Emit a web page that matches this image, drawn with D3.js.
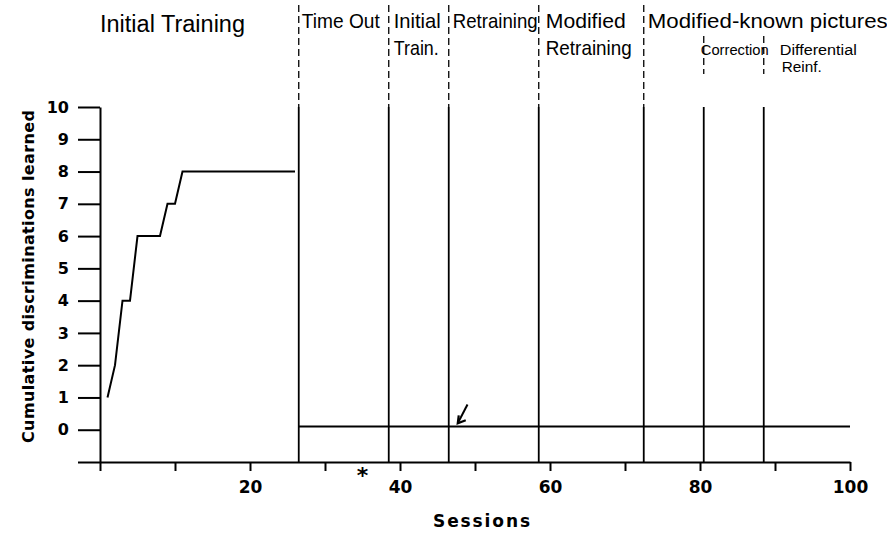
<!DOCTYPE html>
<html>
<head>
<meta charset="utf-8">
<script src="https://cdn.jsdelivr.net/npm/d3@7"></script>
<style>
  html, body { margin: 0; padding: 0; background: #fff; }
  svg { display: block; }
  .tick text { font-family: "DejaVu Sans", sans-serif; font-weight: bold; }
</style>
</head>
<body>
<div id="chart"></div>
<script>
  // initial training: sessions and cumulative discriminations learned
  var trainSessions = [1, 2, 3, 4, 5, 6, 7, 8, 9, 10, 11, 12, 13, 14, 15, 16, 17, 18, 19, 20, 21, 22, 23, 24, 25, 26];
  var trainLearned = [1, 2, 4, 4, 6, 6, 6, 6, 7, 7, 8, 8, 8, 8, 8, 8, 8, 8, 8, 8, 8, 8, 8, 8, 8, 8];

  // after the time out nothing new was learned
  var laterSessions = [26.5, 100];
  var laterLearned = [0.1, 0.1];

  // phase boundaries (session) and whether they are main or sub phases
  var boundarySessions = [26.5, 38.5, 46.5, 58.5, 72.5, 80.5, 88.5];
  var boundaryKinds = ['main', 'main', 'main', 'main', 'main', 'sub', 'sub'];

  // phase labels, one entry per phase, lines split with '|'
  var phaseNames = ['Initial Training', 'Time Out', 'Initial|Train.', 'Retraining', 'Modified|Retraining',
    'Modified-known pictures', 'Correction', 'Differential|Reinf.'];

  var xTickValues = [0, 10, 20, 30, 40, 50, 60, 70, 80, 90, 100];
  var xTickLabels = ['', '', '20', '', '40', '', '60', '', '80', '', '100'];
  var yTickValues = [-1, 0, 1, 2, 3, 4, 5, 6, 7, 8, 9, 10];
  var yTickLabels = ['', '0', '1', '2', '3', '4', '5', '6', '7', '8', '9', '10'];

  var xTitle = 'Sessions';
  var yTitle = 'Cumulative discriminations learned';

  // annotations: asterisk under the axis, arrow pointing at the retraining line
  var starSession = 35;
  var arrowFrom = [49, 0.78];
  var arrowTo = [47.7, 0.2];

  var width = 887;
  var height = 535;

  var svg = d3.select('#chart').append('svg')
      .attr('width', width)
      .attr('height', height);

  var x = d3.scaleLinear().domain([0, 100]).range([100, 850]);
  var y = d3.scaleLinear().domain([-1, 10]).range([462, 107]);

  // axes
  var xAxis = d3.axisBottom(x)
      .tickValues(xTickValues)
      .tickSize(9)
      .tickSizeOuter(0)
      .tickFormat(function (d, i) { return xTickLabels[i]; });

  var gx = svg.append('g')
      .attr('transform', 'translate(0,' + y(-1) + ')')
      .call(xAxis);
  gx.selectAll('.tick text')
      .attr('y', 31)
      .attr('dy', 0)
      .attr('font-size', 17);

  var yAxis = d3.axisLeft(y)
      .tickValues(yTickValues)
      .tickSize(22)
      .tickSizeOuter(0)
      .tickPadding(9)
      .tickFormat(function (d, i) { return yTickLabels[i]; });

  var gy = svg.append('g')
      .attr('transform', 'translate(' + x(0) + ',0)')
      .call(yAxis);
  gy.selectAll('.tick text')
      .attr('font-size', 16);

  svg.selectAll('.domain, .tick line')
      .attr('stroke', '#000')
      .attr('stroke-width', 2);

  // phase boundaries: solid inside the plot, dashed above it
  boundarySessions.forEach(function (s, i) {
    var bx = x(s);
    svg.append('line')
        .attr('x1', bx).attr('x2', bx)
        .attr('y1', y(10)).attr('y2', y(-1))
        .attr('stroke', '#000')
        .attr('stroke-width', 1.8);

    var top = boundaryKinds[i] === 'main' ? 5 : 36;
    var bottom = boundaryKinds[i] === 'main' ? y(10) : 74;
    svg.append('line')
        .attr('x1', bx).attr('x2', bx)
        .attr('y1', top).attr('y2', bottom)
        .attr('stroke', '#000')
        .attr('stroke-width', 1.3)
        .attr('stroke-dasharray', '7,4');
  });

  // data lines
  var line = d3.line()
      .x(function (d) { return x(d[0]); })
      .y(function (d) { return y(d[1]); });

  svg.append('path')
      .datum(d3.zip(trainSessions, trainLearned))
      .attr('d', line)
      .attr('fill', 'none')
      .attr('stroke', '#000')
      .attr('stroke-width', 2);

  svg.append('path')
      .datum(d3.zip(laterSessions, laterLearned))
      .attr('d', line)
      .attr('fill', 'none')
      .attr('stroke', '#000')
      .attr('stroke-width', 2);

  // phase labels
  var labelLayout = [
    {x: x(0), y: 32, size: 23, widths: [145]},
    {x: x(boundarySessions[0]) + 3, y: 28, size: 21, widths: [78]},
    {x: x(boundarySessions[1]) + 5, y: 28, size: 21, widths: [47, 45]},
    {x: x(boundarySessions[2]) + 4, y: 28, size: 21, widths: [85]},
    {x: x(boundarySessions[3]) + 7, y: 28, size: 21, widths: [80, 86]},
    {x: x(boundarySessions[4]) + 4, y: 28, size: 21, widths: [240]},
    {x: x(boundarySessions[5]) - 3, y: 55, size: 14, widths: [68]},
    {x: x(boundarySessions[6]) + 16, y: 55, size: 14, widths: [77, 40]}
  ];

  phaseNames.forEach(function (name, i) {
    var lay = labelLayout[i];
    name.split('|').forEach(function (txt, j) {
      var lineGap = lay.size > 16 ? 27 : 17;
      svg.append('text')
          .attr('x', lay.x + (j === 1 && i === 7 ? 2 : 0))
          .attr('y', lay.y + j * lineGap)
          .attr('font-family', '"Liberation Sans", Arial, sans-serif')
          .attr('font-size', lay.size)
          .attr('textLength', lay.widths[j])
          .attr('lengthAdjust', 'spacingAndGlyphs')
          .attr('fill', '#000')
          .text(txt);
    });
  });

  // axis titles
  svg.append('text')
      .attr('x', 433)
      .attr('y', 527)
      .attr('font-family', '"DejaVu Sans", sans-serif')
      .attr('font-weight', 'bold')
      .attr('font-size', 17)
      .attr('textLength', 97)
      .attr('lengthAdjust', 'spacing')
      .text(xTitle);

  svg.append('text')
      .attr('transform', 'translate(34,' + 443 + ') rotate(-90)')
      .attr('font-family', '"DejaVu Sans", sans-serif')
      .attr('font-weight', 'bold')
      .attr('font-size', 16)
      .attr('textLength', 333)
      .attr('lengthAdjust', 'spacing')
      .text(yTitle);

  // asterisk
  svg.append('text')
      .attr('x', x(starSession))
      .attr('y', y(-1) + 21)
      .attr('text-anchor', 'middle')
      .attr('font-family', '"DejaVu Sans", sans-serif')
      .attr('font-weight', 'bold')
      .attr('font-size', 22)
      .text('*');

  // arrow
  var ax1 = x(arrowFrom[0]), ay1 = y(arrowFrom[1]);
  var ax2 = x(arrowTo[0]), ay2 = y(arrowTo[1]);
  svg.append('line')
      .attr('x1', ax1).attr('y1', ay1)
      .attr('x2', ax2).attr('y2', ay2)
      .attr('stroke', '#000')
      .attr('stroke-width', 2);
  svg.append('path')
      .attr('d', 'M' + (ax2 + 1) + ',' + (ay2 - 8) + 'L' + ax2 + ',' + ay2 + 'L' + (ax2 + 8) + ',' + (ay2 - 3))
      .attr('fill', 'none')
      .attr('stroke', '#000')
      .attr('stroke-width', 2.2);
</script>
</body>
</html>
